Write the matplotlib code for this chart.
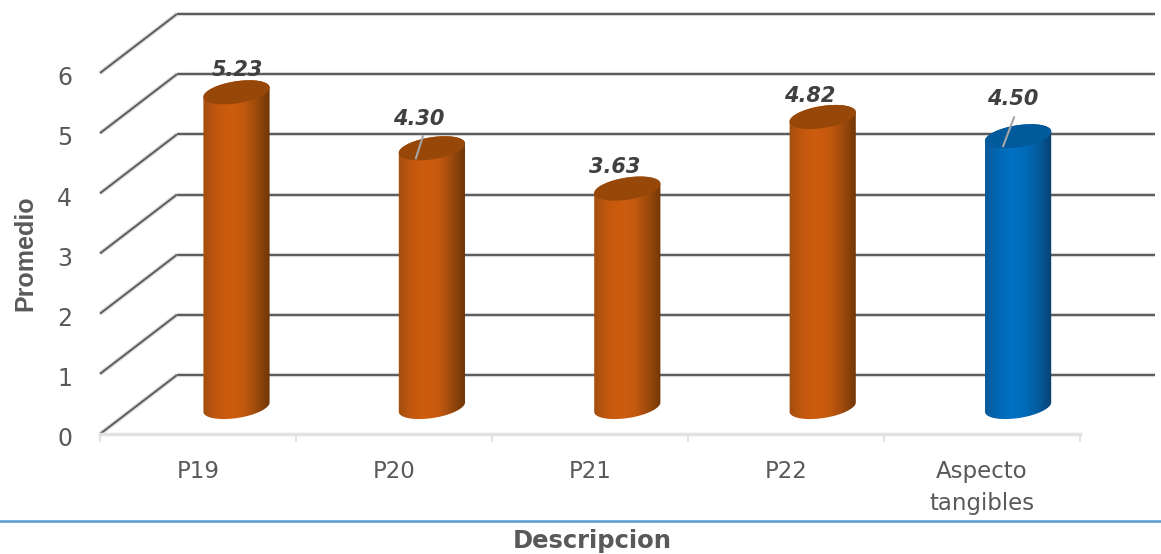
import numpy as np
import matplotlib.pyplot as plt
import matplotlib.patheffects as pe
import matplotlib.transforms as mtrans
from matplotlib.colors import LinearSegmentedColormap
from matplotlib.patches import Polygon

categories = ['P19', 'P20', 'P21', 'P22', 'Aspecto\ntangibles']
promedios = [5.23, 4.30, 3.63, 4.82, 4.50]
y_ticks = [0, 1, 2, 3, 4, 5, 6]

# pixels per data unit on the front plane
PX_X = 196.0
PX_Y = 60.17
DEPTH_X = 77 / PX_X
DEPTH_Y = 59 / PX_Y
BAR_BASE = 27 / PX_Y
BAR_START = 136.5 / PX_X
BAR_STEP = 195.4 / PX_X

ORANGE = dict(cmap=['#a34e10', '#c2580f', '#ce5c0e', '#c5590f', '#9c4a0c', '#6f3508'], top='#974808')
BLUE = dict(cmap=['#0b5a9c', '#0068b3', '#0072c4', '#006ab8', '#055a9b', '#0a3f6b'], top='#005a9c')
bar_styles = [ORANGE, ORANGE, ORANGE, ORANGE, BLUE]

# label offsets from the top of each bar, in pixels
label_offsets = [(0.5, -22), (-13, -29), (-13, -22), (-13, -21), (-5, -37)]
leaders = [None, ((-9, -12), (-16, 10)), None, None, ((-4, -19), (-15, 10))]

TEXT = '#595959'


def ellipse(cx, cy, t):
    # tilted ellipse for the cylinder ends, rising to the right
    a, b, tilt = 33.5, 11, np.radians(9)
    dx = a * np.cos(t) * np.cos(tilt) - b * np.sin(t) * np.sin(tilt)
    dy = a * np.cos(t) * np.sin(tilt) + b * np.sin(t) * np.cos(tilt)
    return np.column_stack([cx + dx / PX_X, cy + dy / PX_Y])


fig = plt.figure(figsize=(11.61, 5.54), dpi=100)
ax = fig.add_axes([100 / 1161, 120 / 554, 980 / 1161, 361 / 554])

# back wall lines and the side wall diagonals
halo = [pe.Stroke(linewidth=3, foreground='#d4d4d4'), pe.Normal()]
for v in y_ticks:
    ax.plot([DEPTH_X, 5.383], [v + DEPTH_Y, v + DEPTH_Y], color='#5a5a5a', lw=1.4,
            clip_on=False, zorder=1, path_effects=halo, solid_capstyle='butt')
    ax.plot([0, DEPTH_X], [v, v + DEPTH_Y], color='#5a5a5a', lw=1.3,
            clip_on=False, zorder=1, path_effects=halo, solid_capstyle='butt')

# cylinders
gradient = np.linspace(0, 1, 256).reshape(1, -1)
for i, (val, style) in enumerate(zip(promedios, bar_styles)):
    cx = BAR_START + i * BAR_STEP
    top = BAR_BASE + val
    half = 33.5 / PX_X
    lower = ellipse(cx, BAR_BASE, np.linspace(np.pi, 2 * np.pi, 60))
    upper = ellipse(cx, top, np.linspace(0, np.pi, 60))
    body = Polygon(np.vstack([lower, upper]), closed=True, fc='none', ec='none', zorder=3)
    ax.add_patch(body)
    cmap = LinearSegmentedColormap.from_list('cyl', style['cmap'])
    im = ax.imshow(gradient, cmap=cmap, extent=[cx - half, cx + half, 0, top + 0.3],
                   aspect='auto', zorder=3)
    im.set_clip_path(body)
    cap = ellipse(cx, top, np.linspace(0, 2 * np.pi, 120))
    ax.add_patch(Polygon(cap, closed=True, fc=style['top'], ec='none', zorder=4))

    if leaders[i] is not None:
        (x0, y0), (x1, y1) = leaders[i]
        ax.plot([cx + x0 / PX_X, cx + x1 / PX_X], [top - y0 / PX_Y, top - y1 / PX_Y],
                color='#a6a6a6', lw=1.5, zorder=5, clip_on=False)
    ox, oy = label_offsets[i]
    ax.text(cx + ox / PX_X, top - oy / PX_Y, f'{val:.2f}', ha='center', va='center',
            fontsize=15, fontweight='bold', fontstyle='italic', color='#404040', zorder=6)

ax.set_xlim(0, 5)
ax.set_ylim(0, 6)

for side in ['top', 'right', 'left']:
    ax.spines[side].set_visible(False)
ax.spines['bottom'].set_color('#e2e2e2')
ax.spines['bottom'].set_linewidth(2.5)

ax.set_yticks(y_ticks)
ax.tick_params(axis='y', length=0, pad=20, labelsize=17, labelcolor=TEXT)
# nudge the value labels down a little
down = mtrans.ScaledTranslation(0, -2 / 72, fig.dpi_scale_trans)
for lab in ax.get_yticklabels():
    lab.set_transform(lab.get_transform() + down)

ax.set_xticks(np.arange(6))
ax.set_xticklabels([])
ax.tick_params(axis='x', which='major', length=5.5, width=1.5, color='#e2e2e2')
ax.set_xticks(np.arange(5) + 0.5, minor=True)
ax.set_xticklabels(categories, minor=True, fontsize=16.5, color=TEXT, linespacing=1.46)
ax.tick_params(axis='x', which='minor', length=0, pad=19)

ax.set_ylabel('Promedio', fontsize=18, fontweight='bold', color=TEXT,
              family=['Liberation Sans'])
ax.yaxis.set_label_coords(-63 / 980, 0.5)

# rule above the axis title
fig.add_artist(plt.Line2D([0, 1], [1 - 521 / 554, 1 - 521 / 554], color='#5b9bd5', lw=1.8))
fig.text(592 / 1161, 1 - 541 / 554, 'Descripcion', ha='center', va='center',
         fontsize=17.5, fontweight='bold', color=TEXT)

plt.savefig('out.png', dpi=100)
